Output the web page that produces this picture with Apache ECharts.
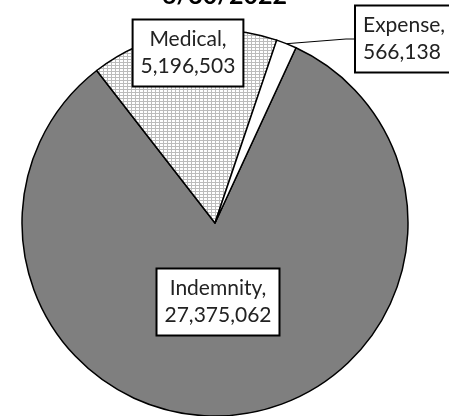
<!DOCTYPE html>
<html>
<head>
<meta charset="utf-8">
<script src="https://cdn.jsdelivr.net/npm/echarts@6/dist/echarts.min.js"></script>
<style>
  html, body { margin: 0; padding: 0; background: #fff; }
  #chart { width: 449px; height: 416px; }
</style>
</head>
<body>
<div id="chart"></div>
<script>
// data
const titleText = "6/30/2022";
const categories = ["Indemnity", "Medical", "Expense"];
const values = [27375062, 5196503, 566138];

// dotted fill for the medical slice
function dotPattern() {
  const c = document.createElement("canvas");
  c.width = 4;
  c.height = 3;
  const ctx = c.getContext("2d");
  ctx.fillStyle = "#bcbcbc";
  ctx.fillRect(0, 0, 4, 3);
  ctx.fillStyle = "#ffffff";
  ctx.fillRect(0, 0, 3, 2);
  return c;
}

const fills = ["#7f7f7f", { image: dotPattern(), repeat: "repeat" }, "#ffffff"];
const labelSpots = [
  { x: 218, y: 302, align: "center" },
  { x: 188, y: 53, align: "center" },
  { x: 356, y: 39, align: "left" }
];

const chart = echarts.init(document.getElementById("chart"));
chart.setOption({
  animation: false,
  title: {
    text: titleText,
    left: "center",
    top: -22,
    textStyle: {
      fontFamily: "Lato",
      fontWeight: "bold",
      fontSize: 25,
      lineHeight: 25,
      color: "#000"
    }
  },
  series: [
    {
      type: "pie",
      center: [215, 223],
      radius: 193,
      startAngle: 65.2,
      clockwise: true,
      avoidLabelOverlap: false,
      itemStyle: {
        borderColor: "#000",
        borderWidth: 1.5
      },
      label: {
        position: "inside",
        fontFamily: "Lato",
        fontSize: 21,
        lineHeight: 27,
        color: "#222",
        backgroundColor: "#fff",
        borderColor: "#000",
        borderWidth: 2,
        padding: [6, 7, 5, 7],
        formatter: p => p.name + ",\n" + p.value.toLocaleString("en-US")
      },
      labelLine: { show: false },
      labelLayout: params => {
        const s = labelSpots[params.dataIndex];
        return { x: s.x, y: s.y, align: s.align, verticalAlign: "middle" };
      },
      emphasis: { disabled: true },
      data: categories.map((name, i) => {
        const item = { name: name, value: values[i], itemStyle: { color: fills[i] } };
        if (name === "Expense") {
          item.label = { position: "outside" };
          item.labelLine = {
            show: true,
            length: 20,
            length2: 8,
            lineStyle: { color: "#000", width: 1 }
          };
        }
        return item;
      })
    }
  ]
});
</script>
</body>
</html>
